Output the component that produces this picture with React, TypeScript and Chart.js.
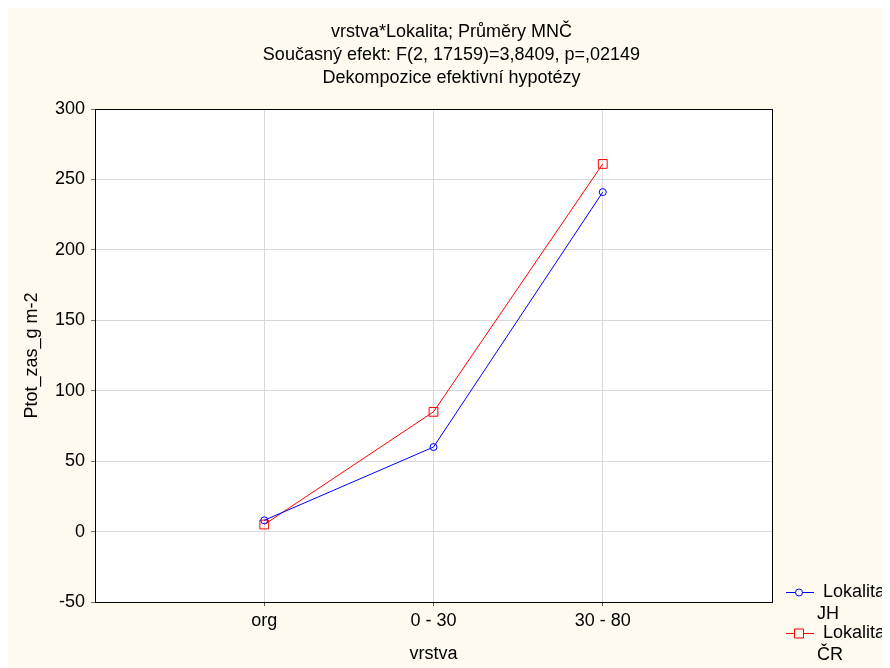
import React, { useEffect, useRef } from 'react';
import { Chart, registerables } from 'chart.js';

Chart.register(...registerables);

// ---- data ----
const categories = ['org', '0 - 30', '30 - 80'];
const jhValues = [8, 60, 241];
const crValues = [5, 85, 261];
const seriesNames = ['Lokalita JH', 'Lokalita ČR'];
const seriesColors = ['#0000ff', '#ff0000'];
const seriesMarkers = ['circle', 'rect'];
const yTicks = [-50, 0, 50, 100, 150, 200, 250, 300];
const titleLines = [
  'vrstva*Lokalita; Průměry MNČ',
  'Současný efekt: F(2, 17159)=3,8409, p=,02149',
  'Dekompozice efektivní hypotézy',
];
const xTitle = 'vrstva';
const yTitle = 'Ptot_zas_g m-2';

const FONT = "'Liberation Sans', Arial, sans-serif";
const FS = 18;

const decoPlugin = {
  id: 'deco',
  beforeDraw(chart: any) {
    const { ctx, chartArea: a } = chart;
    ctx.save();
    ctx.fillStyle = '#ffffff';
    ctx.fillRect(a.left, a.top, a.right - a.left, a.bottom - a.top);
    ctx.restore();
  },
  afterDraw(chart: any) {
    const { ctx, chartArea: a } = chart;
    ctx.save();
    // plot frame
    ctx.strokeStyle = '#000';
    ctx.lineWidth = 1;
    ctx.strokeRect(Math.round(a.left) + 0.5, Math.round(a.top) + 0.5, Math.round(a.right - a.left), Math.round(a.bottom - a.top));
    // title
    ctx.fillStyle = '#000';
    ctx.font = `${FS}px ${FONT}`;
    ctx.textAlign = 'center';
    ctx.textBaseline = 'middle';
    const cx = (a.left + a.right) / 2 + 18;
    titleLines.forEach((t, i) => ctx.fillText(t, cx, 24 + i * 23));
    // legend
    const lx = a.right + 14;
    seriesNames.forEach((name, i) => {
      const y = a.bottom - 10 + i * 41;
      const parts = name.split(' ');
      ctx.strokeStyle = seriesColors[i];
      ctx.lineWidth = 1;
      ctx.beginPath();
      ctx.moveTo(lx, y + 0.5);
      ctx.lineTo(lx + 28, y + 0.5);
      ctx.stroke();
      const mx = lx + 13;
      ctx.beginPath();
      if (seriesMarkers[i] === 'circle') {
        ctx.arc(mx, y + 0.5, 3.5, 0, Math.PI * 2);
      } else {
        ctx.rect(mx - 4.5, y - 4, 9, 9);
      }
      ctx.fillStyle = '#fefaf0';
      ctx.fill();
      ctx.stroke();
      ctx.fillStyle = '#000';
      ctx.textAlign = 'left';
      ctx.fillText(parts[0], lx + 37, y);
      ctx.fillText(parts.slice(1).join(' '), lx + 31, y + 22);
    });
    ctx.restore();
  },
};

export default function App() {
  const ref = useRef<HTMLCanvasElement | null>(null);

  useEffect(() => {
    if (!ref.current) return;
    const mk = (vals: number[]) => vals.map((v, i) => ({ x: i + 1, y: v }));
    const chart = new Chart(ref.current, {
      type: 'line',
      data: {
        datasets: [jhValues, crValues].map((vals, i) => ({
          label: seriesNames[i],
          data: mk(vals),
          borderColor: seriesColors[i],
          borderWidth: 1,
          pointStyle: seriesMarkers[i] as any,
          pointRadius: i === 0 ? 3.5 : 6.2,
          pointBorderColor: seriesColors[i],
          pointBackgroundColor: 'rgba(255,255,255,0)',
          pointBorderWidth: 1,
          tension: 0,
          fill: false,
          clip: false as any,
        })),
      },
      options: {
        animation: false,
        responsive: false,
        events: [],
        layout: { padding: { top: 101, right: 118, left: 0, bottom: 0 } },
        plugins: {
          legend: { display: false },
          title: { display: false },
          tooltip: { enabled: false },
        },
        scales: {
          x: {
            type: 'linear',
            min: 0,
            max: categories.length + 1,
            afterBuildTicks: (s: any) => {
              s.ticks = categories.map((_, i) => ({ value: i + 1 }));
            },
            afterFit: (s: any) => {
              s.height = 66;
            },
            grid: { color: '#d9d9d9', lineWidth: 1, tickLength: 4, tickColor: '#555' },
            border: { display: false },
            ticks: {
              color: '#000',
              font: { family: FONT, size: FS },
              padding: 4,
              autoSkip: false,
              maxRotation: 0,
              callback: (v: any) => categories[Number(v) - 1] ?? '',
            },
            title: {
              display: true,
              text: xTitle,
              color: '#000',
              font: { family: FONT, size: FS },
              padding: { top: 0, bottom: 3 },
            },
          },
          y: {
            type: 'linear',
            min: -50,
            max: 300,
            afterBuildTicks: (s: any) => {
              s.ticks = yTicks.map((v) => ({ value: v }));
            },
            afterFit: (s: any) => {
              s.width = 87;
            },
            grid: { color: '#d9d9d9', lineWidth: 1, tickLength: 4, tickColor: '#777' },
            border: { display: false },
            ticks: {
              color: '#000',
              font: { family: FONT, size: FS },
              padding: 6,
              callback: (v: any) => String(v),
            },
            title: {
              display: true,
              text: yTitle,
              color: '#000',
              font: { family: FONT, size: FS },
              padding: { top: 13, bottom: 0 },
            },
          },
        },
      },
      plugins: [decoPlugin],
    } as any);
    return () => chart.destroy();
  }, []);

  return (
    <div style={{ width: 882, height: 660, background: '#fefaf0' }}>
      <canvas ref={ref} width={882} height={660} style={{ display: 'block' }} />
    </div>
  );
}
